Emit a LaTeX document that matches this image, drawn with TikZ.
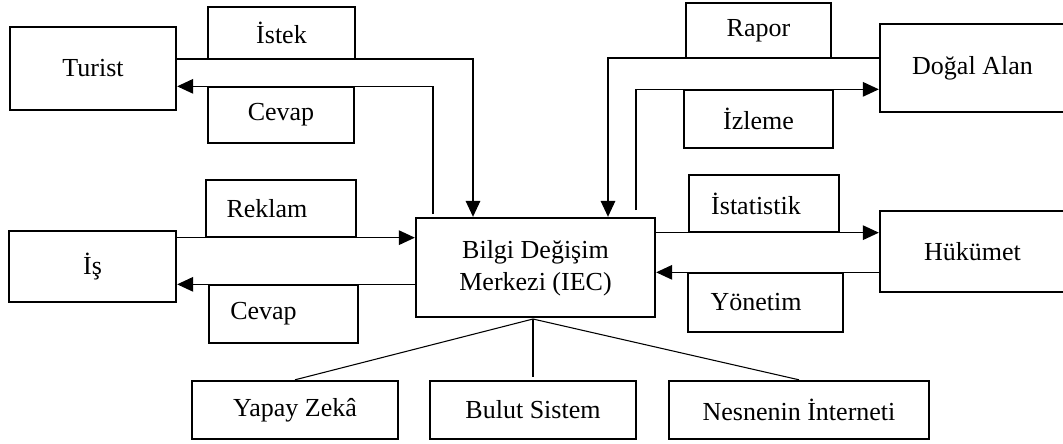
\documentclass[tikz,border=0pt]{standalone}
\usepackage{fontspec}
\setmainfont{Liberation Serif}
\usetikzlibrary{arrows.meta}
\begin{document}
\begin{tikzpicture}[x=0.75pt,y=-0.75pt,
  sz/.style 2 args={minimum width=#1*0.75pt, minimum height=#2*0.75pt},
  bigbox/.style={draw, line width=1.8pt, inner sep=0pt, rectangle},
  lblbox/.style={draw, line width=1pt, inner sep=0pt, rectangle},
  conn/.style={line width=0.8pt},
  arr/.style={conn, -{Triangle[length=12pt,width=11pt]}},
  font=\fontsize{19.5}{25}\selectfont]
\useasboundingbox (0,0) rectangle (1063,443);
% main boxes
\node[bigbox, sz={166}{83}] (turist) at (93,68.5) {Turist};
\node[bigbox, sz={167}{71}] (is) at (92.5,266.5) {İş};
\node[bigbox, sz={239}{99}, align=center] (iec) at (535.5,267.5) {\raisebox{-1.5pt}{\begin{tabular}{@{}c@{}}Bilgi Değişim\\[-1pt]Merkezi (IEC)\end{tabular}}};
\node[bigbox, sz={185}{88}] (dogal) at (972.5,68) {Doğal Alan};
\node[bigbox, sz={185}{81}] (hukumet) at (972.5,251.5) {Hükümet};
\node[bigbox, sz={206}{58}] (yapay) at (295,410) {Yapay Zekâ};
\node[bigbox, sz={206}{58}] (bulut) at (533,410) {Bulut Sistem};
\node[bigbox, sz={260}{58}] (nesne) at (799,410) {Nesnenin İnterneti};
% label boxes
\node[lblbox, sz={147}{52}] (istek) at (281.5,33) {İstek};
\node[lblbox, sz={146}{56}] (cevapa) at (281,115) {Cevap};
\node[lblbox, sz={150}{57}] (reklam) at (281,208.5) {Reklam\kern21pt};
\node[lblbox, sz={149}{58}] (cevapb) at (283.5,314) {Cevap\kern30pt};
\node[lblbox, sz={145}{55}] (rapor) at (758.5,30.5) {Rapor};
\node[lblbox, sz={149}{58}] (izleme) at (758.5,119) {İzleme};
\node[lblbox, sz={150}{57}] (istat) at (764,203.5) {İstatistik\kern12pt};
\node[lblbox, sz={155}{59}] (yonetim) at (765.5,302.5) {Yönetim\kern14pt};
% bend points
\coordinate (b1) at (473,59);
\coordinate (b2) at (433,214);
\coordinate (b3) at (608,58);
\coordinate (b4) at (636,210);
\coordinate (hub) at (533,319);
\coordinate (bt) at (533,377);
% connectors
\draw[arr] (turist.east |- b1) -- (b1) -- (b1 |- iec.north);
\draw[arr] (b2) -- (b2 |- cevapa.north) -- (turist.east |- cevapa.north);
\draw[arr] (is.east |- reklam.south) -- (iec.west |- reklam.south);
\draw[arr] (iec.west |- cevapb.north) -- (is.east |- cevapb.north);
\draw[arr] (dogal.west |- b3) -- (b3) -- (b3 |- iec.north);
\draw[arr] (b4) -- (b4 |- izleme.north) -- (dogal.west |- izleme.north);
\draw[arr] (iec.east |- istat.south) -- (hukumet.west |- istat.south);
\draw[arr] (hukumet.west |- yonetim.north) -- (iec.east |- yonetim.north);
\draw[conn] (hub) -- (yapay.north);
\draw[conn] (hub) -- (bt);
\draw[conn] (hub) -- (nesne.north);
\end{tikzpicture}
\end{document}
